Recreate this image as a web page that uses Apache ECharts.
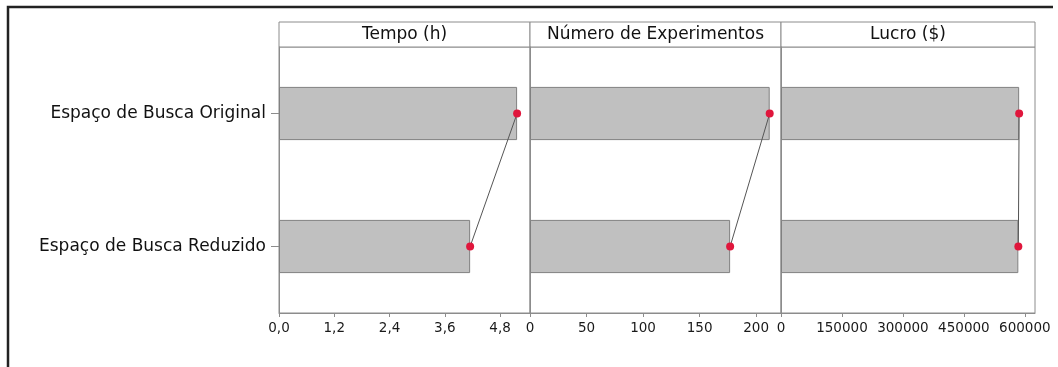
<!DOCTYPE html>
<html><head><meta charset="utf-8">
<script src="https://cdn.jsdelivr.net/npm/echarts@6/dist/echarts.min.js"></script>
<style>html,body{margin:0;padding:0;background:#fff}#c{width:1058px;height:367px}</style>
</head><body><div id="c"></div>
<script>
var categories = ['Espaço de Busca Original', 'Espaço de Busca Reduzido'];
var panelTitles = ['Tempo (h)', 'Número de Experimentos', 'Lucro ($)'];
var tempo = [5.17, 4.15];
var experimentos = [212, 177];
var lucro = [586000, 584000];
var tempoTicks = { min: 0, max: 5.45, interval: 1.2 };
var expTicks = { min: 0, max: 222, interval: 50 };
var lucroTicks = { min: 0, max: 625000, interval: 150000 };

(function () {
var FONT = 'DejaVu Sans';
var chart = echarts.init(document.getElementById('c'));
var panels = [
  { left: 279, width: 251, data: tempo, ticks: tempoTicks, fmt: function (v) { return v.toFixed(1).replace('.', ','); } },
  { left: 530, width: 251, data: experimentos, ticks: expTicks, fmt: function (v) { return String(v); } },
  { left: 781, width: 254, data: lucro, ticks: lucroTicks, fmt: function (v) { return String(v); } }
];
var gTop = 47, gHeight = 266;
var grids = [], xAxes = [], yAxes = [], series = [], graphics = [];
panels.forEach(function (p, i) {
  grids.push({ left: p.left, top: gTop, width: p.width, height: gHeight, show: true, borderColor: '#8c8c8c', borderWidth: 1, backgroundColor: 'transparent' });
  xAxes.push({
    type: 'value', gridIndex: i, min: p.ticks.min, max: p.ticks.max, interval: p.ticks.interval,
    axisLine: { show: true, lineStyle: { color: '#8c8c8c' } },
    axisTick: { show: true, length: 4, lineStyle: { color: '#8c8c8c' } },
    splitLine: { show: false },
    axisLabel: { showMaxLabel: false, formatter: p.fmt, color: '#1a1a1a', fontFamily: FONT, fontSize: 13.5, margin: 8 }
  });
  yAxes.push({
    type: 'category', gridIndex: i, data: categories, inverse: true,
    axisLine: { show: true, lineStyle: { color: '#8c8c8c' } },
    axisTick: { show: i === 0, alignWithLabel: true, length: 8, lineStyle: { color: '#8c8c8c' } },
    axisLabel: { show: i === 0, color: '#111', fontFamily: FONT, fontSize: 17, margin: 13 },
    splitLine: { show: false }
  });
  series.push({
    type: 'bar', xAxisIndex: i, yAxisIndex: i, data: p.data, barWidth: '40%', silent: true,
    itemStyle: { color: '#c0c0c0', borderColor: '#808080', borderWidth: 1 }
  });
  series.push({
    type: 'line', xAxisIndex: i, yAxisIndex: i, silent: true,
    data: p.data.map(function (v, k) { return [v, categories[k]]; }),
    symbol: 'circle', symbolSize: 8,
    itemStyle: { color: '#e0163c' },
    lineStyle: { color: '#555', width: 1 }, z: 5
  });
  graphics.push({
    type: 'rect', shape: { x: p.left, y: 22, width: p.width, height: gTop - 22 },
    style: { fill: '#fff', stroke: '#8c8c8c', lineWidth: 1 }
  });
  graphics.push({
    type: 'text', x: p.left + p.width / 2, y: 35,
    style: { text: panelTitles[i], fill: '#111', font: '17px "' + FONT + '"', textAlign: 'center', textVerticalAlign: 'middle' }
  });
});
graphics.push({
  type: 'polyline', shape: { points: [[8, 367], [8, 7], [1053, 7]] },
  style: { stroke: '#222', lineWidth: 2.5, fill: null }
});
chart.setOption({
  animation: false,
  backgroundColor: '#fff',
  grid: grids, xAxis: xAxes, yAxis: yAxes, series: series, graphic: graphics
});
})();
</script></body></html>
